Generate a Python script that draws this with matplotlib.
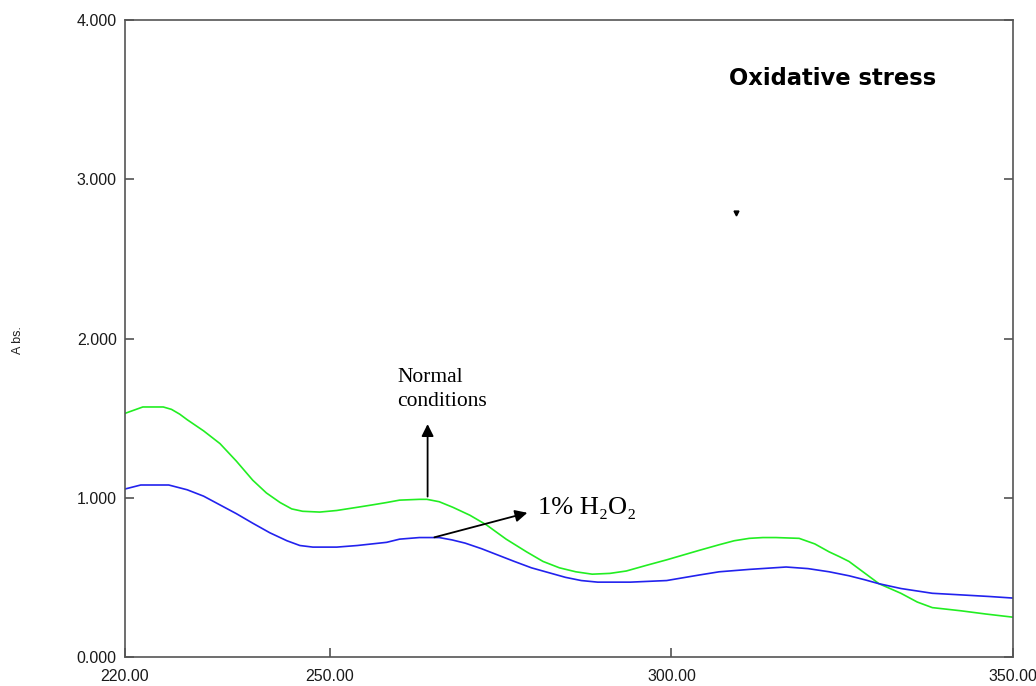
import matplotlib
matplotlib.use('Agg')
import matplotlib.pyplot as plt

# wavelength (nm) and absorbance
wl_normal = [220.0, 221.3, 222.6, 224.1, 225.6, 226.8, 228.0, 229.1, 231.5, 233.9, 236.3,
             238.7, 240.7, 242.7, 244.4, 246.0, 248.5, 251.0, 254.0, 256.2, 258.3, 260.2,
             263.1, 264.2, 266.0, 268.0, 270.5, 272.9, 275.8, 278.8, 281.2, 283.6, 286.0,
             288.4, 291.0, 293.4, 296.3, 299.3, 301.7, 304.1, 307.0, 309.2, 311.4, 313.4,
             315.3, 318.7, 321.0, 323.1, 324.6, 326.0, 328.2, 330.4, 333.6, 336.0, 338.2,
             342.4, 346.0, 350.0]
abs_normal = [1.53, 1.55, 1.57, 1.57, 1.57, 1.555, 1.525, 1.49, 1.42, 1.34, 1.23,
              1.11, 1.03, 0.97, 0.93, 0.915, 0.91, 0.92, 0.94, 0.955, 0.97, 0.985,
              0.99, 0.99, 0.975, 0.94, 0.89, 0.83, 0.74, 0.66, 0.60, 0.56, 0.535,
              0.52, 0.525, 0.54, 0.575, 0.61, 0.64, 0.67, 0.705, 0.73, 0.745, 0.75,
              0.75, 0.745, 0.71, 0.66, 0.63, 0.60, 0.53, 0.46, 0.40, 0.345, 0.31,
              0.29, 0.27, 0.25]

wl_h2o2 = [220.0, 222.3, 224.1, 226.4, 229.1, 231.5, 233.9, 236.3, 238.7, 241.2, 243.7,
           245.6, 247.5, 249.0, 251.0, 254.0, 258.3, 260.2, 263.1, 266.0, 267.9, 269.8,
           272.2, 274.6, 277.0, 279.5, 282.0, 284.5, 286.8, 289.2, 294.0, 299.3, 304.1,
           307.0, 311.4, 316.8, 320.0, 323.1, 326.0, 328.3, 330.4, 333.6, 338.2,
           342.4, 346.5, 350.0]
abs_h2o2 = [1.055, 1.08, 1.08, 1.08, 1.05, 1.01, 0.955, 0.90, 0.84, 0.78, 0.73,
            0.70, 0.69, 0.69, 0.69, 0.70, 0.72, 0.74, 0.75, 0.75, 0.735, 0.715,
            0.68, 0.64, 0.60, 0.56, 0.53, 0.50, 0.48, 0.47, 0.47, 0.48, 0.515,
            0.535, 0.55, 0.565, 0.555, 0.535, 0.51, 0.485, 0.46, 0.43, 0.40,
            0.39, 0.38, 0.37]

x_ticks = [220, 250, 300, 350]
x_labels = ['220.00', '250.00', '300.00', '350.00']
y_ticks = [0, 1, 2, 3, 4]
y_labels = ['0.000', '1.000', '2.000', '3.000', '4.000']

fig = plt.figure(figsize=(10.36, 6.86), dpi=100)
ax = fig.add_axes([0.1207, 0.0423, 0.857, 0.9285])

ax.plot(wl_normal, abs_normal, color='#22ee22', lw=1.2)
ax.plot(wl_h2o2, abs_h2o2, color='#2222ee', lw=1.2)

ax.set_xlim(220, 350)
ax.set_ylim(0, 4)
ax.set_xticks(x_ticks)
ax.set_xticklabels(x_labels)
ax.set_yticks(y_ticks)
ax.set_yticklabels(y_labels)
ax.tick_params(direction='in', length=6.5, width=1.1, color='#444444',
               labelsize=11.5, labelcolor='#1a1a1a', right=True)
ax.tick_params(axis='x', pad=9)
ax.tick_params(axis='y', pad=6)
for lab in ax.get_xticklabels() + ax.get_yticklabels():
    lab.set_family(['Liberation Sans', 'DejaVu Sans'])
for sp in ax.spines.values():
    sp.set_color('#555555')
    sp.set_linewidth(1.2)

fig.text(0.017, 0.505, 'A bs.', rotation=90, ha='center', va='center',
         fontsize=9, color='#222222', family='Liberation Sans')

# arrows and labels
ax.annotate('', xy=(264.3, 1.48), xytext=(264.3, 0.99),
            arrowprops=dict(arrowstyle='-|>', color='black', lw=1.3, mutation_scale=18))
ax.text(259.9, 1.68, 'Normal\nconditions', fontsize=15.5, family='Liberation Serif',
        ha='left', va='center', linespacing=1.3)

ax.annotate('', xy=(279.3, 0.91), xytext=(264.9, 0.747),
            arrowprops=dict(arrowstyle='-|>', color='black', lw=1.3, mutation_scale=18))
ax.text(280.4, 0.935, '1% H\u2082O\u2082', fontsize=19,
        family=['Liberation Serif', 'DejaVu Serif'], ha='left', va='center')

ax.text(308.5, 3.63, 'Oxidative stress', fontsize=16.3, fontweight='bold',
        family='DejaVu Sans', ha='left', va='center')
ax.plot([309.5], [2.79], marker='v', color='black', markersize=3.5)

fig.savefig('out.png', dpi=100)
